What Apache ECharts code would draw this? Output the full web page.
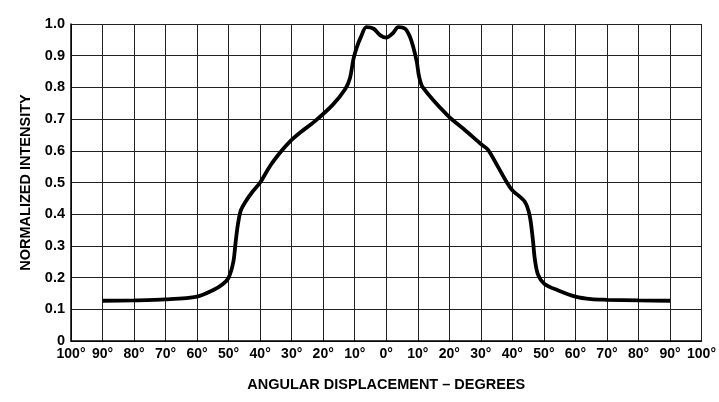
<!DOCTYPE html>
<html>
<head>
<meta charset="utf-8">
<script src="https://cdn.jsdelivr.net/npm/echarts@6/dist/echarts.min.js"></script>
<style>
  html, body { margin: 0; padding: 0; background: #fff; }
  #chart { width: 719px; height: 402px; }
</style>
</head>
<body>
<div id="chart"></div>
<script>
// angle in degrees (negative = left of centre)
const angles = [-90, -80, -70, -60, -55, -52, -50, -48.5, -47.8, -47.1, -46.2, -44.6, -42.5, -40, -36.8, -33.2, -30.5, -27, -22.8, -17, -13, -11.5, -10.4, -9.4, -8, -6.3, -4, -2, 0,
  2, 3.8, 6, 7.5, 8.5, 9.7, 10.4, 11.6, 19.6, 25, 30.2, 32.3, 35.4, 39.6, 43.9, 45.5, 46.5, 47.1, 48.1, 50.2, 54.4, 60, 65, 70, 80, 90];
// normalized intensity
const intensity = [0.127, 0.128, 0.131, 0.14, 0.16, 0.178, 0.2, 0.25, 0.31, 0.365, 0.41, 0.44, 0.47, 0.5, 0.553, 0.6, 0.63, 0.66, 0.692, 0.745, 0.795, 0.83, 0.89, 0.925, 0.96, 0.99, 0.985, 0.965, 0.957,
  0.97, 0.99, 0.985, 0.96, 0.93, 0.88, 0.835, 0.8, 0.71, 0.665, 0.62, 0.603, 0.55, 0.48, 0.44, 0.395, 0.32, 0.26, 0.21, 0.18, 0.16, 0.14, 0.132, 0.13, 0.128, 0.127];

const chart = echarts.init(document.getElementById('chart'));
const font = 'Liberation Sans, Arial, sans-serif';

chart.setOption({
  animation: false,
  grid: { left: 71, right: 14, top: 24, bottom: 61 },
  xAxis: {
    type: 'value',
    min: -100,
    max: 100,
    interval: 10,
    name: 'ANGULAR DISPLACEMENT – DEGREES',
    nameLocation: 'middle',
    nameGap: 36,
    nameTextStyle: { fontFamily: font, fontWeight: 'bold', fontSize: 14.5, color: '#000' },
    axisLine: { show: true, onZero: false, lineStyle: { color: '#000', width: 1.5 } },
    axisTick: { show: false },
    axisLabel: {
      margin: 6,
      showMinLabel: true,
      showMaxLabel: true,
      fontFamily: font, fontWeight: 'bold', fontSize: 14, color: '#000',
      formatter: v => Math.abs(v) + '°'
    },
    splitLine: { show: true, lineStyle: { color: '#222', width: 1 } }
  },
  yAxis: {
    type: 'value',
    min: 0,
    max: 1,
    interval: 0.1,
    name: 'NORMALIZED INTENSITY',
    nameLocation: 'middle',
    nameGap: 38,
    nameTextStyle: { fontFamily: font, fontWeight: 'bold', fontSize: 14.5, color: '#000' },
    axisLine: { show: true, onZero: false, lineStyle: { color: '#000', width: 1.5 } },
    axisTick: { show: false },
    axisLabel: {
      margin: 6,
      fontFamily: font, fontWeight: 'bold', fontSize: 14.5, color: '#000',
      formatter: v => v === 0 ? '0' : v.toFixed(1)
    },
    splitLine: { show: true, lineStyle: { color: '#222', width: 1 } }
  },
  series: [{
    type: 'line',
    data: angles.map((a, i) => [a, intensity[i]]),
    smooth: 0.3,
    symbol: 'none',
    lineStyle: { color: '#000', width: 3.8 }
  }]
});
</script>
</body>
</html>
